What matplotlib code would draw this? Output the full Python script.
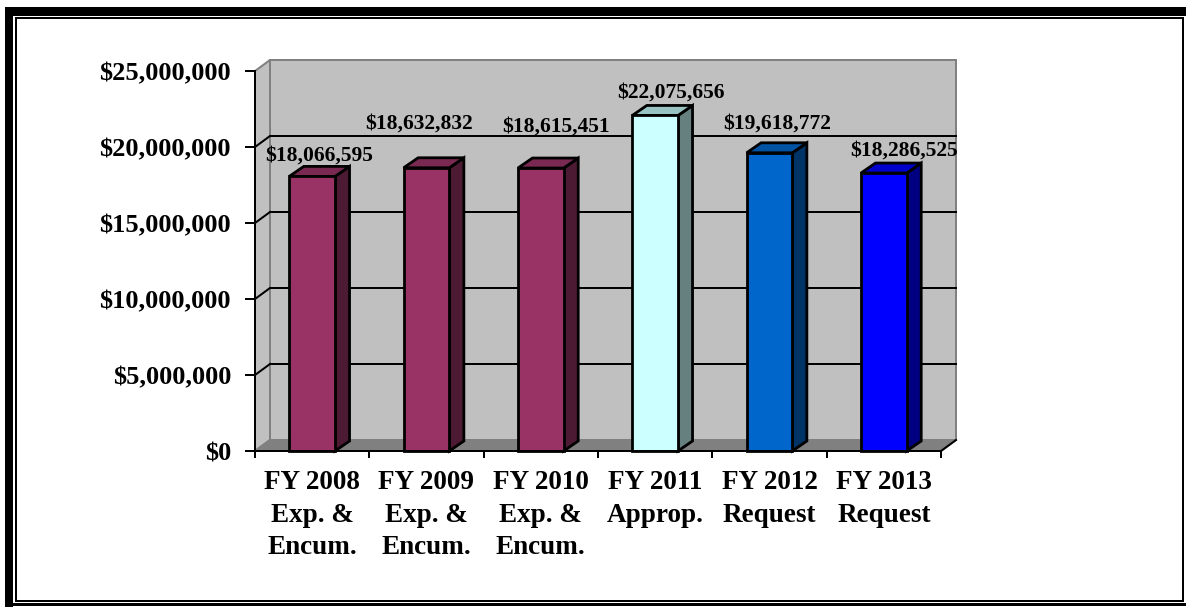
import matplotlib
matplotlib.use("Agg")
import matplotlib.pyplot as plt
from matplotlib.patches import Polygon, Rectangle
import numpy as np

# ---- data ----
categories = ["FY 2008\nExp. &\nEncum.", "FY 2009\nExp. &\nEncum.", "FY 2010\nExp. &\nEncum.",
              "FY 2011\nApprop.", "FY 2012\nRequest", "FY 2013\nRequest"]
values = [18066595, 18632832, 18615451, 22075656, 19618772, 18286525]
y_ticks = [0, 5000000, 10000000, 15000000, 20000000, 25000000]

# ---- styles ----
front_colors = ["#993366", "#993366", "#993366", "#CCFFFF", "#0066CC", "#0000FF"]
side_colors = ["#4D1A33", "#4D1A33", "#4D1A33", "#668080", "#003366", "#000080"]
top_colors = ["#7A2952", "#7A2952", "#7A2952", "#99C2C2", "#0052A3", "#0000CC"]
# label offsets from the front top-centre of each bar, in pixels
label_shift = [(7, 16), (-7, 39), (15, 36), (16, 18), (8, 24), (20, 17)]

FONT = "Liberation Serif"
W, H, DPI = 1186, 607, 100
px2pt = 72.0 / DPI

fig = plt.figure(figsize=(W / DPI, H / DPI), dpi=DPI)
fig.patch.set_facecolor("white")

# ---- page frame ----
bg = fig.add_axes([0, 0, 1, 1], zorder=0)
bg.set_xlim(0, W)
bg.set_ylim(H, 0)
bg.axis("off")
for (x, y, w, h) in [(5, 7, 8, 600), (5, 7, W - 5, 9), (5, 603, W - 5, 3)]:
    bg.add_patch(Rectangle((x, y), w, h, facecolor="black", edgecolor="none"))
bg.add_patch(Rectangle((15.5, 17.8), 1167.5, 583.2, facecolor="none",
                       edgecolor="black", linewidth=2 * px2pt))

# ---- plot area ----
x0_px, x1_px, y0_px, y1_px = 255, 941, 451, 71
ax = fig.add_axes([x0_px / W, (H - y0_px) / H, (x1_px - x0_px) / W, (y0_px - y1_px) / H],
                  zorder=1)
n = len(values)
ax.set_xlim(0, n)
ax.set_ylim(0, 25000000)
ax.patch.set_visible(False)

# depth offsets converted to data units through the axes transform
origin = ax.transData.transform((0, 0))
wdx, wdy = ax.transData.inverted().transform(origin + np.array([15, 11]))
bdx, bdy = ax.transData.inverted().transform(origin + np.array([14.5, 10]))
ymax = y_ticks[-1]

lw = 2 * px2pt
# back wall
ax.add_patch(Rectangle((wdx, wdy), n, ymax, facecolor="#C0C0C0", edgecolor="#808080",
                       linewidth=lw, zorder=1, clip_on=False))
# left side wall
ax.add_patch(Polygon([(0, 0), (0, ymax), (wdx, ymax + wdy), (wdx, wdy)], closed=True,
                     facecolor="#C0C0C0", edgecolor="#808080", linewidth=lw,
                     zorder=1, clip_on=False))
# floor
ax.add_patch(Polygon([(0, 0), (n, 0), (n + wdx, wdy), (wdx, wdy)], closed=True,
                     facecolor="#808080", edgecolor="#808080", linewidth=lw,
                     zorder=1, clip_on=False))
ax.plot([n, n + wdx], [0, wdy], color="black", linewidth=lw, zorder=2, clip_on=False)

# gridlines on the back wall and the side wall
for v in y_ticks[1:-1]:
    ax.plot([wdx, n + wdx], [v + wdy, v + wdy], color="black", linewidth=lw,
            zorder=2, clip_on=False)
    ax.plot([0, wdx], [v, v + wdy], color="black", linewidth=lw, zorder=2, clip_on=False)

# bars
bw = 0.40
for i, v in enumerate(values):
    xl = i + 0.5 - bw / 2
    xr = i + 0.5 + bw / 2
    ek = dict(edgecolor="black", linewidth=2.0, zorder=3, clip_on=False, joinstyle="miter")
    ax.add_patch(Polygon([(xr, 0), (xr, v), (xr + bdx, v + bdy), (xr + bdx, bdy)],
                         closed=True, facecolor=side_colors[i], **ek))
    ax.add_patch(Polygon([(xl, v), (xr, v), (xr + bdx, v + bdy), (xl + bdx, v + bdy)],
                         closed=True, facecolor=top_colors[i], **ek))
    ax.add_patch(Rectangle((xl, 0), bw, v, facecolor=front_colors[i], **ek))
    sx, sy = label_shift[i]
    ax.annotate(f"${v:,.0f}", xy=(i + 0.5, v), xytext=(sx * px2pt, sy * px2pt),
                textcoords="offset points", ha="center", va="baseline",
                fontsize=15.5, fontweight="bold", family=FONT, zorder=5,
                annotation_clip=False)

# axes lines and ticks
for s in ["top", "right"]:
    ax.spines[s].set_visible(False)
for s in ["left", "bottom"]:
    ax.spines[s].set_color("black")
    ax.spines[s].set_linewidth(lw)
    ax.spines[s].set_zorder(4)

ax.set_yticks(y_ticks)
ax.set_yticklabels([f"${t:,.0f}" for t in y_ticks])
ax.tick_params(axis="y", direction="out", length=10 * px2pt, width=lw, pad=14 * px2pt,
               labelsize=19)
ax.set_xticks(np.arange(n + 1))
ax.set_xticklabels([])
ax.set_xticks(np.arange(n) + 0.5, minor=True)
ax.set_xticklabels(categories, minor=True)
ax.tick_params(axis="x", which="major", direction="out", length=7 * px2pt, width=lw)
ax.tick_params(axis="x", which="minor", length=0, pad=19 * px2pt, labelsize=19.5)
for lab in ax.get_yticklabels() + ax.get_xticklabels(minor=True):
    lab.set_family(FONT)
    lab.set_fontweight("bold")
for lab in ax.get_xticklabels(minor=True):
    lab.set_linespacing(1.4)
    lab.set_ha("center")
    lab.set_va("top")

fig.savefig("out.png", dpi=DPI, facecolor="white")
